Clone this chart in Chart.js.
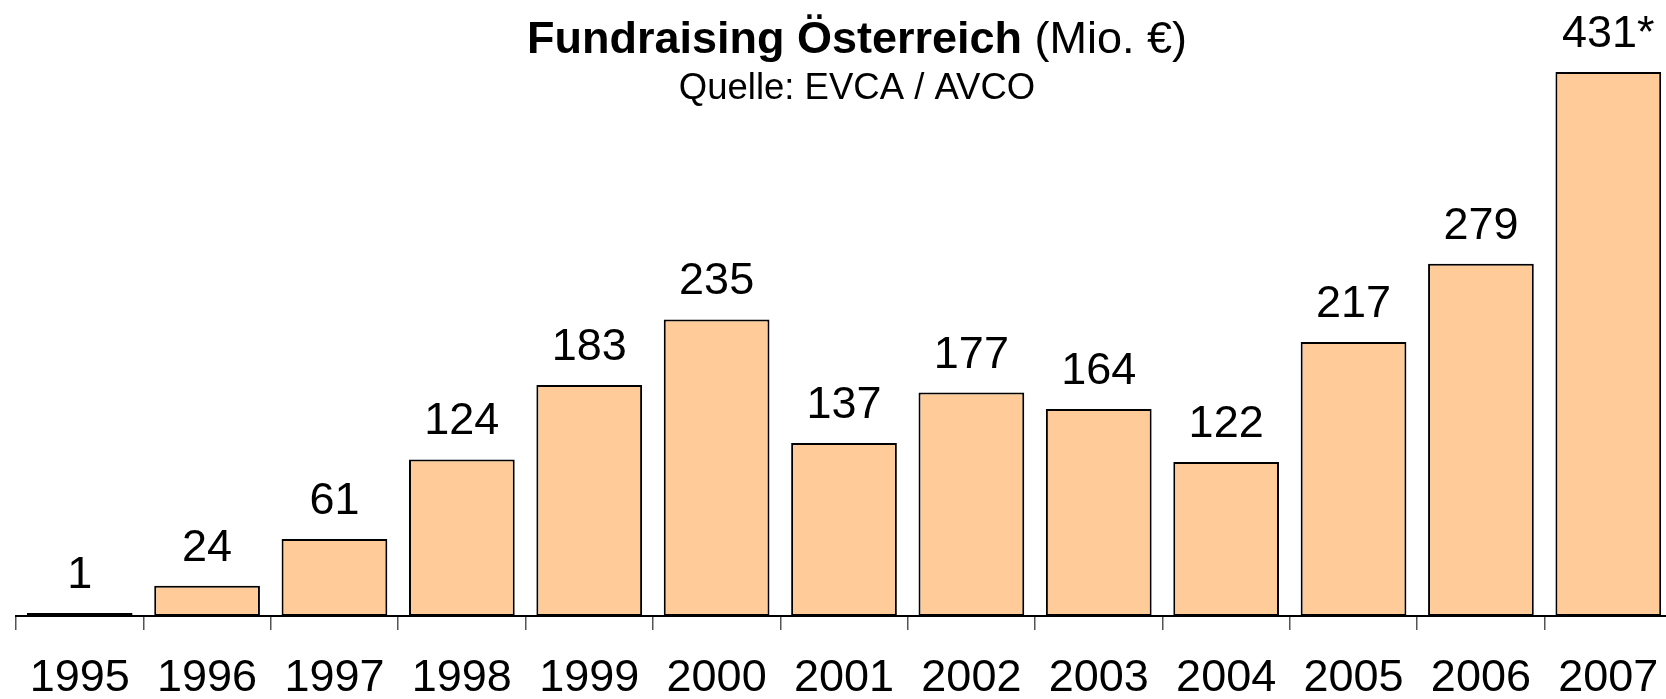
<!DOCTYPE html>
<html>
<head>
    <meta charset="UTF-8">
    <title>Fundraising Österreich</title>
    <script src="https://cdn.jsdelivr.net/npm/chart.js@4.4.1/dist/chart.umd.min.js"></script>
    <style>
      html, body { margin: 0; padding: 0; background: #fff; overflow: hidden; }
      .wrap { width: 1666px; height: 699px; overflow: hidden; }
    </style>
</head>
<body>
    <div class="wrap">
        <canvas id="myChart" width="1714" height="699"></canvas>
    </div>

  <script>
      const years = ['1995', '1996', '1997', '1998', '1999', '2000', '2001',
                     '2002', '2003', '2004', '2005', '2006', '2007'];
      const amounts = [1, 24, 61, 124, 183, 235, 137, 177, 164, 122, 217, 279, 431];
      const amountLabels = ['1', '24', '61', '124', '183', '235', '137',
                            '177', '164', '122', '217', '279', '431*'];

      const FONT = '"Liberation Sans", Arial, sans-serif';

      // Titel: fetter Teil + normaler Teil in einer Zeile
      const titlePlugin = {
          id: 'titleLines',
          afterDraw(chart) {
              const ctx = chart.ctx;
              const cx = chart.width / 2;
              ctx.save();
              ctx.fillStyle = '#000';
              ctx.textBaseline = 'alphabetic';
              const boldTxt = 'Fundraising Österreich';
              const normTxt = ' (Mio. €)';
              ctx.font = 'bold 45px ' + FONT;
              const w1 = ctx.measureText(boldTxt).width;
              ctx.font = '45px ' + FONT;
              const w2 = ctx.measureText(normTxt).width;
              const x0 = cx - (w1 + w2) / 2;
              ctx.textAlign = 'left';
              ctx.font = 'bold 45px ' + FONT;
              ctx.fillText(boldTxt, x0, 53);
              ctx.font = '45px ' + FONT;
              ctx.fillText(normTxt, x0 + w1, 53);

              ctx.textAlign = 'center';
              ctx.font = '36.5px ' + FONT;
              ctx.fillText('Quelle: EVCA / AVCO', cx, 99);
              ctx.restore();
          }
      };

      // Werte über den Balken
      const valuePlugin = {
          id: 'valueLabels',
          afterDatasetsDraw(chart) {
              const ctx = chart.ctx;
              const meta = chart.getDatasetMeta(0);
              const base = chart.scales.y.getPixelForValue(0);
              ctx.save();
              ctx.fillStyle = '#000';
              ctx.font = '45px ' + FONT;
              ctx.textAlign = 'center';
              ctx.textBaseline = 'alphabetic';
              meta.data.forEach((bar, i) => {
                  const top = Math.min(bar.y, base - 1);
                  ctx.fillText(amountLabels[i], bar.x, top - 25);
              });
              ctx.restore();
          }
      };

      const ctx = document.getElementById('myChart').getContext('2d');
      const myChart = new Chart(ctx, {
          type: 'bar',
          data: {
              labels: years,
              datasets: [{
                  data: amounts,
                  backgroundColor: '#FFCC99',
                  borderColor: '#000',
                  borderWidth: 2,
                  borderSkipped: false,
                  minBarLength: 3,
                  categoryPercentage: 1.0,
                  barPercentage: 0.83
              }]
          },
          options: {
              responsive: false,
              animation: false,
              layout: { padding: { top: 48, left: 16, right: 42, bottom: 0 } },
              plugins: {
                  legend: { display: false },
                  title: { display: false },
                  tooltip: { enabled: false }
              },
              scales: {
                  x: {
                      border: { display: true, color: '#000', width: 2 },
                      grid: {
                          offset: true,
                          drawOnChartArea: false,
                          drawTicks: true,
                          tickLength: 14,
                          color: '#555',
                          lineWidth: 1.5
                      },
                      ticks: {
                          color: '#000',
                          font: { family: FONT, size: 45 },
                          padding: 22,
                          maxRotation: 0,
                          autoSkip: false
                      },
                      afterFit(scale) { scale.height = 83; }
                  },
                  y: {
                      display: false,
                      min: 0,
                      max: 450
                  }
              }
          },
          plugins: [titlePlugin, valuePlugin]
      });
  </script>
</body>
</html>
